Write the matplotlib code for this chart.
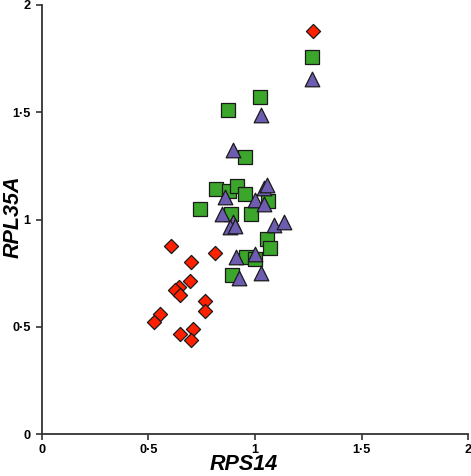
import matplotlib
matplotlib.use('Agg')
import matplotlib.pyplot as plt

# red diamonds
red_x = [0.605, 0.811, 0.698, 0.694, 0.642, 0.624, 0.647, 0.764, 0.764, 0.556, 0.527, 0.709, 0.647, 0.698, 1.272]
red_y = [0.878, 0.844, 0.800, 0.715, 0.684, 0.671, 0.648, 0.620, 0.573, 0.558, 0.524, 0.490, 0.468, 0.438, 1.880]

# green squares
green_x = [1.269, 1.021, 0.871, 0.951, 0.815, 0.877, 0.915, 0.952, 1.063, 0.744, 0.889, 0.979, 1.055, 1.071, 0.959, 0.998, 0.892]
green_y = [1.757, 1.571, 1.510, 1.291, 1.142, 1.134, 1.156, 1.120, 1.088, 1.050, 1.026, 1.024, 0.909, 0.866, 0.827, 0.814, 0.740]

# purple triangles
purple_x = [1.269, 1.030, 0.896, 1.040, 1.054, 0.857, 1.002, 1.040, 0.847, 0.896, 0.881, 0.904, 1.087, 1.138, 0.909, 1.002, 1.026, 0.923]
purple_y = [1.653, 1.487, 1.324, 1.147, 1.161, 1.106, 1.091, 1.071, 1.026, 0.990, 0.966, 0.970, 0.974, 0.990, 0.827, 0.839, 0.752, 0.726]

ticks = [0, 0.5, 1, 1.5, 2]
tick_labels = ['0', '0·5', '1', '1·5', '2']

plt.rcParams['font.family'] = ['Liberation Sans', 'DejaVu Sans']

fig = plt.figure(figsize=(4.71, 4.76), dpi=100)
ax = fig.add_axes([0.0885, 0.088, 0.906, 0.9015])

edge = '#1a1a1a'
ax.scatter(red_x, red_y, marker='D', s=7.2**2, c='#ff2000', edgecolors=edge, linewidths=0.9, zorder=3)
ax.scatter(green_x, green_y, marker='s', s=9.8**2, c='#3ca52c', edgecolors=edge, linewidths=0.9, zorder=3)
ax.scatter(purple_x, purple_y, marker='^', s=10.5**2, c='#6e5cb0', edgecolors=edge, linewidths=0.9, zorder=4)

ax.set_xlim(0, 2)
ax.set_ylim(0, 2)
ax.set_xticks(ticks)
ax.set_xticklabels(tick_labels)
ax.set_yticks(ticks)
ax.set_yticklabels(tick_labels)

for s in ['top', 'right']:
    ax.spines[s].set_visible(False)
for s in ['left', 'bottom']:
    ax.spines[s].set_color('#333333')
    ax.spines[s].set_linewidth(1.3)

ax.tick_params(direction='out', length=4, width=1.2, color='#333333', labelsize=9.2)
ax.tick_params(axis='x', pad=3)
ax.tick_params(axis='y', pad=4)
for lab in ax.get_xticklabels() + ax.get_yticklabels():
    lab.set_fontweight('bold')

ax.set_xlabel('RPS14', fontsize=15.5, fontweight='bold', style='italic')
ax.set_ylabel('RPL35A', fontsize=15.5, fontweight='bold', style='italic')
ax.xaxis.set_label_coords(0.474, -0.047)
ax.yaxis.set_label_coords(-0.042, 0.507)

fig.savefig('out.png', dpi=100)
